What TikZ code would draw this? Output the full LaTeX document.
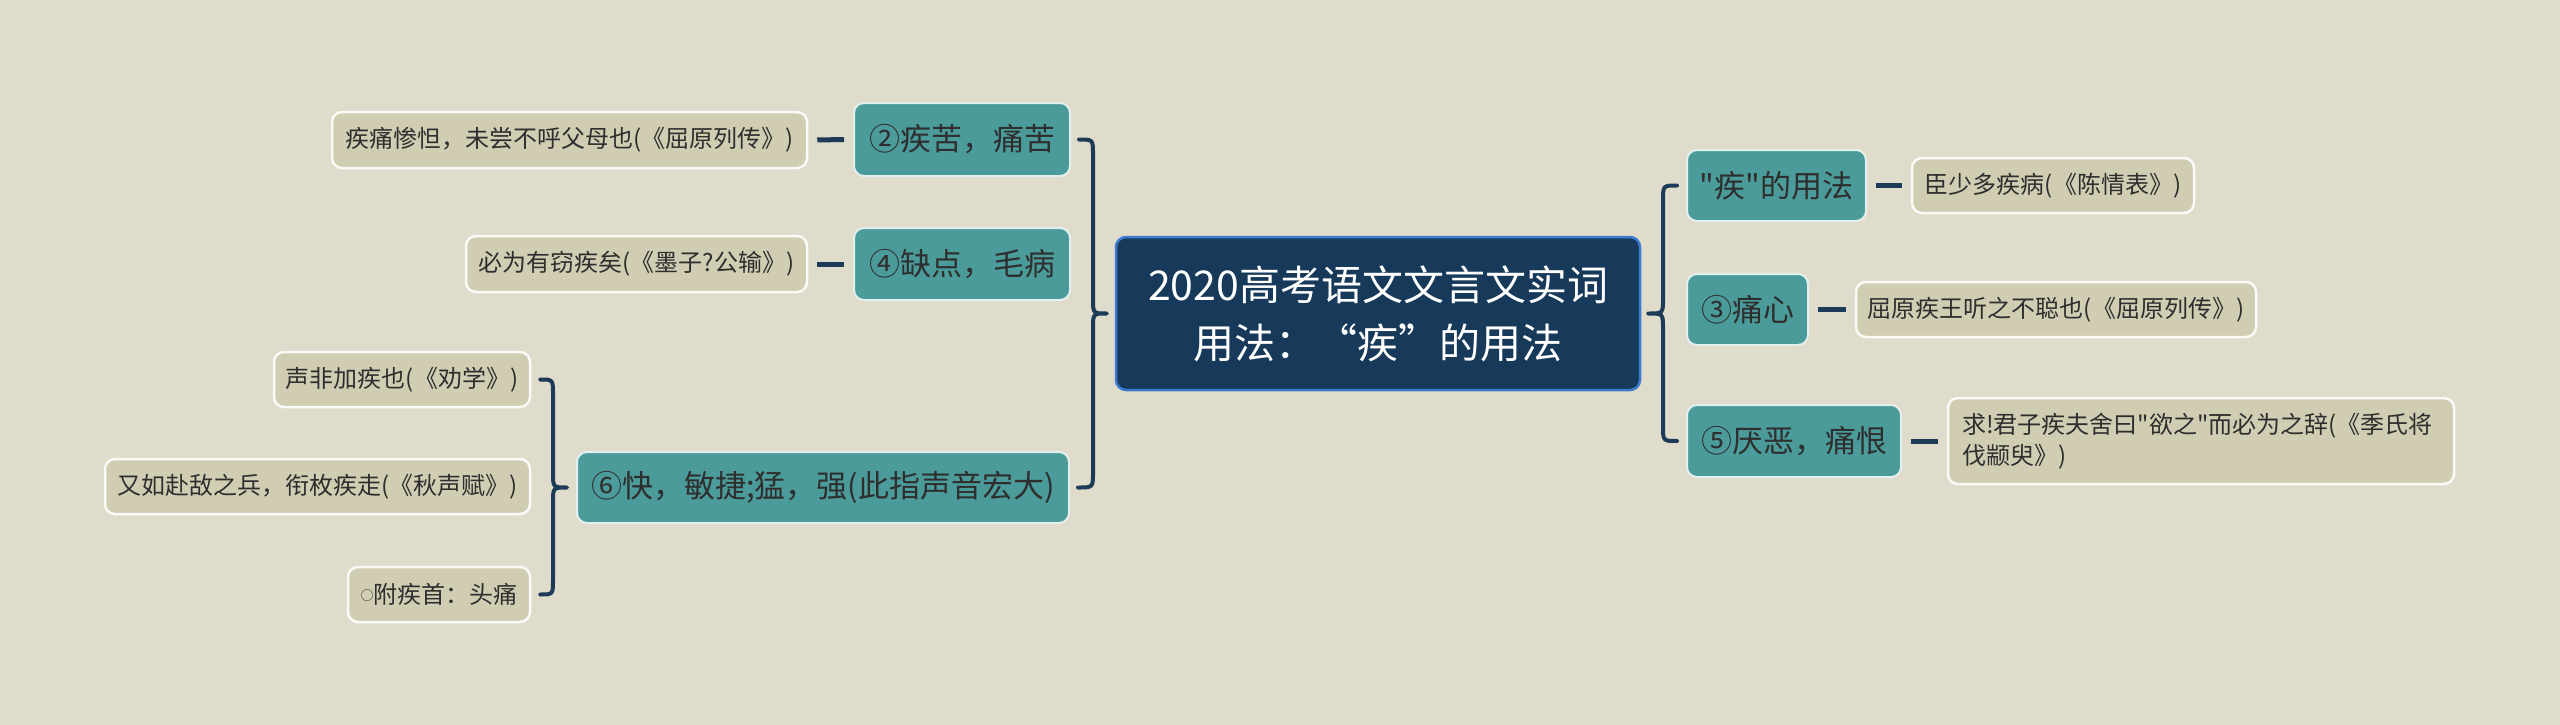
\documentclass[tikz,border=0pt]{standalone}
\usepackage{fontspec}
\newfontfamily\cjk{Noto Sans CJK SC}
\usetikzlibrary{calc}
\definecolor{bgc}{HTML}{DFDCCC}
\definecolor{tealc}{HTML}{4B9B9A}
\definecolor{leafc}{HTML}{D0CDB3}
\definecolor{centc}{HTML}{173A5A}
\definecolor{centb}{HTML}{3B7BD0}
\definecolor{linec}{HTML}{1D3B56}
\definecolor{txtc}{HTML}{2E2E2E}
\tikzset{
  centerbox/.style={draw=centb, line width=2.5pt, fill=centc, rounded corners=10pt, text=white, align=center, inner sep=0pt, font=\cjk\fontsize{41}{58}\selectfont},
  branchbox/.style={draw=white!85!tealc, line width=2pt, fill=tealc, rounded corners=10pt, text=txtc, align=center, inner sep=0pt, font=\cjk\fontsize{31}{36}\selectfont},
  leafbox/.style={draw=white!90!leafc, line width=2.5pt, fill=leafc, rounded corners=10pt, text=txtc, align=center, inner sep=0pt, font=\cjk\fontsize{24}{31}\selectfont},
  dashlink/.style={draw=linec, line width=5pt, shorten >=9pt, shorten <=9pt},
  bracelink/.style={draw=linec, line width=4pt, line cap=round, line join=round}
}
\begin{document}
\begin{tikzpicture}[x=1pt,y=-1pt]
\path[use as bounding box, fill=bgc] (0,0) rectangle (2560,725);
% center
\node[centerbox, minimum width=524pt, minimum height=153pt] (C) at (1378,313.5) {2020高考语文文言文实词\\用法：“疾”的用法};
% left branches
\node[branchbox, minimum width=216pt, minimum height=73pt] (B2) at (962,139.5) {②疾苦，痛苦};
\node[branchbox, minimum width=216pt, minimum height=72pt] (B4) at (962,264) {④缺点，毛病};
\node[branchbox, minimum width=492pt, minimum height=71pt] (B6) at (823,487.5) {⑥快，敏捷;猛，强(此指声音宏大)};
% right branches
\node[branchbox, minimum width=179pt, minimum height=71pt] (R1) at (1776.5,185.5) {"疾"的用法};
\node[branchbox, minimum width=121pt, minimum height=71pt] (R3) at (1747.5,309.5) {③痛心};
\node[branchbox, minimum width=214pt, minimum height=72pt] (R5) at (1794,441) {⑤厌恶，痛恨};
% left leaves
\node[leafbox, minimum width=475pt, minimum height=56pt] (L2) at (569.5,140) {疾痛惨怛，未尝不呼父母也(《屈原列传》)};
\node[leafbox, minimum width=341pt, minimum height=56pt] (L4) at (636.5,264) {必为有窃疾矣(《墨子?公输》)};
\node[leafbox, minimum width=256pt, minimum height=55pt] (L6a) at (402,379.5) {声非加疾也(《劝学》)};
\node[leafbox, minimum width=425pt, minimum height=55pt] (L6b) at (317.5,486.5) {又如赴敌之兵，衔枚疾走(《秋声赋》)};
\node[leafbox, minimum width=182pt, minimum height=55pt] (L6c) at (439,594.5) {\raisebox{3pt}{\fontsize{13}{13}\selectfont ○}附疾首：头痛};
% right leaves
\node[leafbox, minimum width=282pt, minimum height=55pt] (R1L) at (2053,185.5) {臣少多疾病(《陈情表》)};
\node[leafbox, minimum width=400pt, minimum height=55pt] (R3L) at (2056,309.5) {屈原疾王听之不聪也(《屈原列传》)};
\node[leafbox, minimum width=506pt, minimum height=86pt, align=left, text width=478pt] (R5L) at (2201,441) {求!君子疾夫舍曰"欲之"而必为之辞(《季氏将\\伐颛臾》)};
% short links
\draw[dashlink] (L2.east) -- (B2.west);
\draw[dashlink] (L4.east) -- (B4.west);
\draw[dashlink] (R1.east) -- (R1L.west);
\draw[dashlink] (R3.east) -- (R3L.west);
\draw[dashlink] (R5.east) -- (R5L.west);
% braces
\draw[bracelink] ($(B2.east)+(8,0)$) .. controls (1093,139.5) .. (1093,154.5) -- (1093,298.5) .. controls (1093,313.5) .. ($(C.west)+(-8,0)$) .. controls (1093,313.5) .. (1093,328.5) -- (1093,472.5) .. controls (1093,487.5) .. ($(B6.east)+(8,0)$);
\draw[bracelink] ($(R1.west)+(-9,0)$) .. controls (1663,185.5) .. (1663,200.5) -- (1663,298.5) .. controls (1663,313.5) .. ($(C.east)+(7,0)$) .. controls (1663,313.5) .. (1663,328.5) -- (1663,426) .. controls (1663,441) .. ($(R5.west)+(-9,0)$);
\draw[bracelink] ($(L6a.east)+(9,0)$) .. controls (553,379.5) .. (553,394.5) -- (553,472.5) .. controls (553,487.5) .. ($(B6.west)+(-9,0)$) .. controls (553,487.5) .. (553,502.5) -- (553,579.5) .. controls (553,594.5) .. ($(L6c.east)+(9,0)$);
\end{tikzpicture}
\end{document}
